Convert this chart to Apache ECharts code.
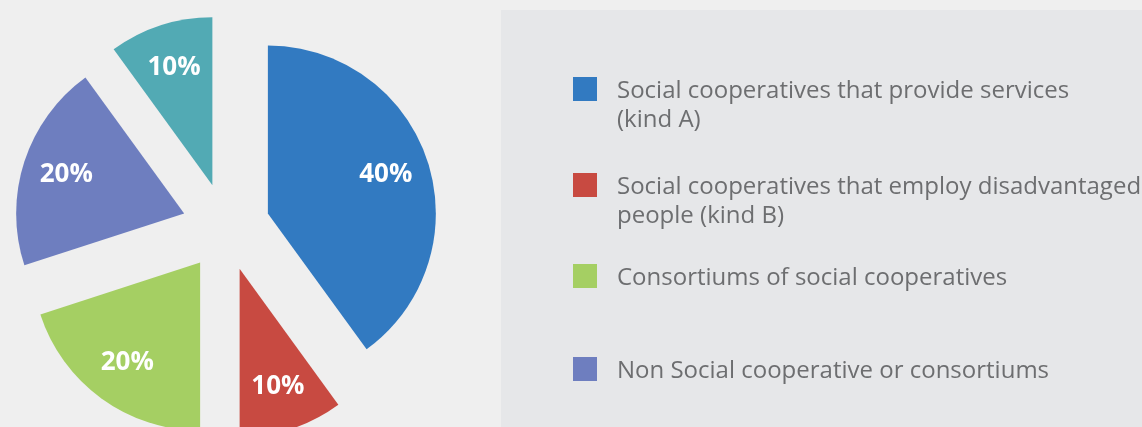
<!DOCTYPE html>
<html>
<head>
<meta charset="utf-8">
<script src="https://cdn.jsdelivr.net/npm/echarts@6/dist/echarts.min.js"></script>
<style>
html,body{margin:0;padding:0;background:#efefef;}
#chart{width:1142px;height:427px;}
</style>
</head>
<body>
<div id="chart"></div>
<script>
// ---- data ----
var categories = [
  'Social cooperatives that provide services (kind A)',
  'Social cooperatives that employ disadvantaged people (kind B)',
  'Consortiums of social cooperatives',
  'Non Social cooperative or consortiums',
  'Other'
];
var values = [40, 10, 20, 20, 10];
var colors = ['#327ac1', '#c84a41', '#a5cf63', '#6e7ebf', '#52aab4'];
var legendLabels = [
  'Social cooperatives that provide services\n(kind A)',
  'Social cooperatives that employ disadvantaged\npeople (kind B)',
  'Consortiums of social cooperatives',
  'Non Social cooperative or consortiums'
];

var chart = echarts.init(document.getElementById('chart'), null, {renderer: 'canvas'});

function pieData(transparent) {
  return values.map(function (v, i) {
    return {
      name: categories[i],
      value: v,
      selected: true,
      itemStyle: {color: transparent ? 'rgba(0,0,0,0)' : colors[i]}
    };
  });
}

var legendTops = [77, 173, 264, 357];
var graphics = [{
  type: 'rect', left: 501, top: 10, z: -10,
  shape: {width: 641, height: 417},
  style: {fill: '#e6e7e9'}
}];
legendLabels.forEach(function (t, i) {
  graphics.push({
    type: 'rect', left: 573, top: legendTops[i],
    shape: {width: 24, height: 24},
    style: {fill: colors[i]}
  });
  graphics.push({
    type: 'text', left: 617, top: legendTops[i],
    style: {
      text: t,
      font: '24px "Open Sans"',
      fill: '#6d6e70',
      lineHeight: 29
    }
  });
});

var option = {
  backgroundColor: '#efefef',
  animation: false,
  graphic: graphics,
  series: [{
    type: 'pie',
    center: [226, 227],
    radius: [0, 168],
    startAngle: 90,
    clockwise: true,
    selectedMode: 'multiple',
    selectedOffset: 44,
    avoidLabelOverlap: false,
    label: {show: false},
    labelLine: {show: false},
    emphasis: {disabled: true, scale: false},
    silent: true,
    data: pieData(false)
  }, {
    type: 'pie',
    center: [226, 227],
    radius: [74, 168],
    startAngle: 90,
    clockwise: true,
    selectedMode: 'multiple',
    selectedOffset: 44,
    avoidLabelOverlap: false,
    label: {
      show: true,
      position: 'inside',
      formatter: '{c}%',
      color: '#ffffff',
      fontFamily: 'Open Sans',
      fontWeight: 'bold',
      fontSize: 26
    },
    labelLine: {show: false},
    emphasis: {disabled: true, scale: false},
    silent: true,
    data: pieData(true)
  }]
};
chart.setOption(option);
</script>
</body>
</html>
